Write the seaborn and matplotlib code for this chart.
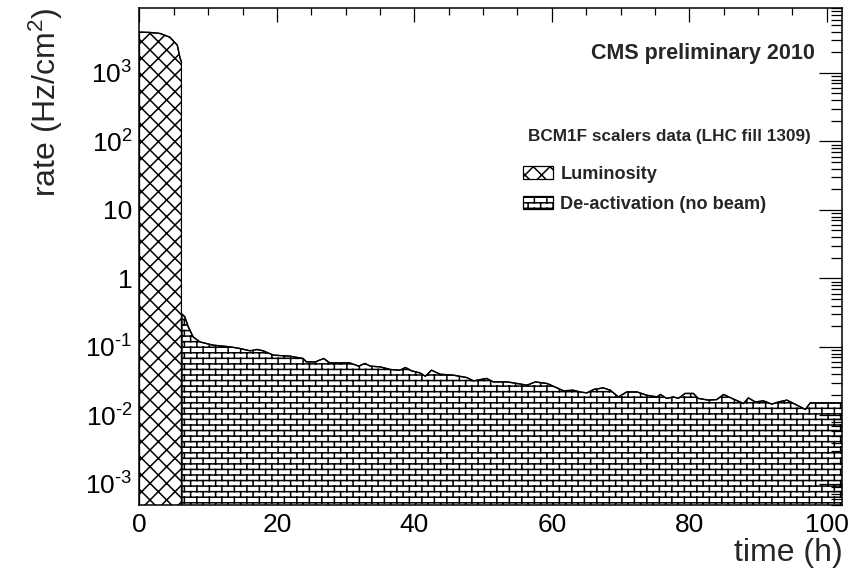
import warnings
import numpy as np
import pandas as pd
import matplotlib
matplotlib.use("Agg")
import matplotlib.pyplot as plt
import matplotlib.hatch as mhatch
from matplotlib import font_manager
from matplotlib.ticker import LogLocator, MultipleLocator, FixedLocator, FixedFormatter, NullFormatter
import seaborn as sns

warnings.filterwarnings("ignore", category=matplotlib.MatplotlibDeprecationWarning)

# ---------------------------------------------------------------- data
lumi_time = [0.0, 1.5, 3.0, 4.4, 5.5, 5.9, 6.1]
lumi_rate = [3930, 3890, 3760, 3320, 2540, 1640, 1450]

deact_time = [6.2, 6.6, 7.1, 7.8, 8.8, 10.7, 13.2, 14.6, 16.1, 17.1,
              18.0, 19.5, 21.9, 23.8, 24.3, 25.6, 26.8, 27.7, 30.6, 31.9,
              32.8, 33.6, 35.0, 36.5, 37.9, 38.7, 39.6, 40.8, 41.6, 42.5,
              43.7, 45.7, 47.6, 48.6, 50.5, 51.5, 53.5, 54.4, 56.4, 57.6,
              59.3, 60.2, 61.7, 63.1, 64.1, 65.1, 66.1, 67.5, 68.5, 69.7,
              70.9, 72.4, 73.8, 75.3, 75.8, 76.7, 77.7, 78.4, 79.4, 80.6,
              81.3, 82.8, 84.0, 85.0, 86.2, 87.9, 88.6, 89.6, 90.8, 92.0,
              93.0, 94.2, 95.2, 96.9, 97.6, 102.3]
deact_rate = [0.30, 0.274, 0.196, 0.140, 0.118, 0.106, 0.100, 0.0948, 0.0875, 0.0916,
              0.0875, 0.0757, 0.0731, 0.0677, 0.0604, 0.0604, 0.0677, 0.0583, 0.0583, 0.0523,
              0.0573, 0.0523, 0.0511, 0.0468, 0.0457, 0.0500, 0.0447, 0.0417, 0.0373, 0.0457,
              0.0399, 0.0386, 0.0357, 0.0319, 0.0346, 0.0308, 0.0308, 0.0298, 0.0276, 0.0308,
              0.0292, 0.0267, 0.0228, 0.0233, 0.0220, 0.0213, 0.0239, 0.0252, 0.0233, 0.0186,
              0.0220, 0.0220, 0.0197, 0.0186, 0.0202, 0.0177, 0.0186, 0.0177, 0.0209, 0.0209,
              0.0177, 0.0167, 0.0170, 0.0202, 0.0177, 0.0149, 0.0180, 0.0157, 0.0163, 0.0146,
              0.0157, 0.0167, 0.0149, 0.0122, 0.0152, 0.0152]
assert len(deact_time) == len(deact_rate)

y_tick_values = [1e-3, 1e-2, 1e-1, 1, 10, 1e2, 1e3]
y_tick_labels = ["10$^{\u20103}$", "10$^{\u20102}$", "10$^{\u20101}$", "1", "10",
                 "10$^{2}$", "10$^{3}$"]
x_tick_values = [0, 20, 40, 60, 80, 100]

series_names = ["Luminosity", "De-activation (no beam)"]
title_text = "CMS preliminary 2010"
legend_header = "BCM1F scalers data (LHC fill 1309)"

X_MAX = 102.3
Y_MIN, Y_MAX = 5.0e-4, 9.0e3
FLOOR = 1e-6


# ---------------------------------------------------------------- brick hatch
class BrickHatch(mhatch.HatchPatternBase):
    """Staggered brick pattern selected with the 'b' hatch character."""
    cols = 8
    rows = 18

    def __init__(self, hatch, density):
        self.active = "b" in hatch
        if self.active:
            self.num_vertices = (self.rows * 2
                                 + (self.rows - 1) * self.cols * 2
                                 + self.cols * 4)
        else:
            self.num_vertices = 0

    def set_vertices_and_codes(self, vertices, codes):
        segs = []
        r, c = self.rows, self.cols
        for i in range(r):
            y = (i + 0.5) / r
            segs.append(((0.0, y), (1.0, y)))
        for i in range(r):
            y0 = (i + 0.5) / r
            y1 = (i + 1.5) / r
            for j in range(c):
                x = (j + 0.25 + 0.5 * (i % 2)) / c
                if i < r - 1:
                    segs.append(((x, y0), (x, y1)))
                else:
                    segs.append(((x, y0), (x, 1.0)))
                    segs.append(((x, 0.0), (x, y1 - 1.0)))
        k = 0
        for (a, b) in segs:
            vertices[k] = a
            vertices[k + 1] = b
            codes[k] = matplotlib.path.Path.MOVETO
            codes[k + 1] = matplotlib.path.Path.LINETO
            k += 2


mhatch._hatch_types.append(BrickHatch)

# ---------------------------------------------------------------- style
sns.set_theme(style="white")
names = {f.name for f in font_manager.fontManager.ttflist}
axis_font = "Liberation Sans Narrow" if "Liberation Sans Narrow" in names else "Liberation Sans"
plt.rcParams["font.family"] = [axis_font, "DejaVu Sans"]
plt.rcParams["mathtext.fontset"] = "custom"
plt.rcParams["mathtext.rm"] = axis_font
plt.rcParams["mathtext.it"] = axis_font + ":italic"
plt.rcParams["mathtext.bf"] = axis_font + ":bold"
plt.rcParams["hatch.linewidth"] = 1.1
plt.rcParams["axes.edgecolor"] = "black"
plt.rcParams["axes.linewidth"] = 1.1

fig = plt.figure(figsize=(8.54, 5.70), dpi=100)
fig.patch.set_facecolor("white")
ax = fig.add_axes([139.5 / 854, 1 - 504.5 / 570, 703 / 854, 497 / 570])
ax.set_facecolor("white")
ax.set_axisbelow(False)

# ---------------------------------------------------------------- fills
lumi_fill = ax.fill_between(lumi_time, lumi_rate, FLOOR, facecolor="white",
                            edgecolor="black", hatch="xx", linewidth=0.9, zorder=1.0)
deact_fill = ax.fill_between(deact_time, deact_rate, FLOOR, facecolor="white",
                             edgecolor="black", hatch="b", linewidth=0.9, zorder=1.1)

lumi_df = pd.DataFrame({"time": lumi_time, "rate": lumi_rate})
deact_df = pd.DataFrame({"time": deact_time, "rate": deact_rate})
sns.lineplot(data=lumi_df, x="time", y="rate", ax=ax, color="black", lw=1.0, zorder=1.2)
sns.lineplot(data=deact_df, x="time", y="rate", ax=ax, color="black", lw=1.0, zorder=1.2)

# ---------------------------------------------------------------- axes
ax.set_yscale("log")
ax.set_xlim(0, X_MAX)
ax.set_ylim(Y_MIN, Y_MAX)

ax.yaxis.set_major_locator(FixedLocator(y_tick_values))
ax.yaxis.set_major_formatter(FixedFormatter(y_tick_labels))
ax.yaxis.set_minor_locator(LogLocator(base=10, subs=np.arange(2, 10), numticks=30))
ax.yaxis.set_minor_formatter(NullFormatter())
ax.xaxis.set_major_locator(FixedLocator(x_tick_values))
ax.xaxis.set_minor_locator(MultipleLocator(5))

ax.tick_params(axis="both", which="both", direction="in", top=True, right=True,
               colors="black", width=0.9)
ax.tick_params(axis="y", which="major", length=16.5, pad=5, labelsize=19)
ax.tick_params(axis="y", which="minor", length=8)
ax.tick_params(axis="x", which="major", length=10, pad=6, labelsize=19)
ax.tick_params(axis="x", which="minor", length=5)
for s in ax.spines.values():
    s.set_visible(True)
    s.set_zorder(6)

ax.set_xlabel("time (h)", fontsize=23, loc="right")
ax.xaxis.set_label_coords(1.0, -0.068)
ax.set_ylabel("rate (Hz/cm$^{2}$)", fontsize=23, loc="top")
ax.yaxis.set_label_coords(-0.106, 1.0)

# ---------------------------------------------------------------- annotations
bold_font = "Liberation Sans"
ax.text(0.961, 0.907, title_text, transform=ax.transAxes, ha="right", va="center",
        fontsize=15.5, fontweight="bold", family=[bold_font, "DejaVu Sans"])
ax.text(0.955, 0.740, legend_header, transform=ax.transAxes, ha="right", va="center",
        fontsize=12.3, fontweight="bold", family=[bold_font, "DejaVu Sans"])

leg = ax.legend([lumi_fill, deact_fill], series_names, loc="upper left",
                bbox_to_anchor=(0.545, 0.681), frameon=False,
                prop={"family": bold_font, "weight": "bold", "size": 13.1},
                handlelength=1.68, handleheight=0.73, handletextpad=0.4,
                labelspacing=0.72, borderpad=0, borderaxespad=0)
leg.set_zorder(7)

fig.savefig("out.png", dpi=100, facecolor="white")
